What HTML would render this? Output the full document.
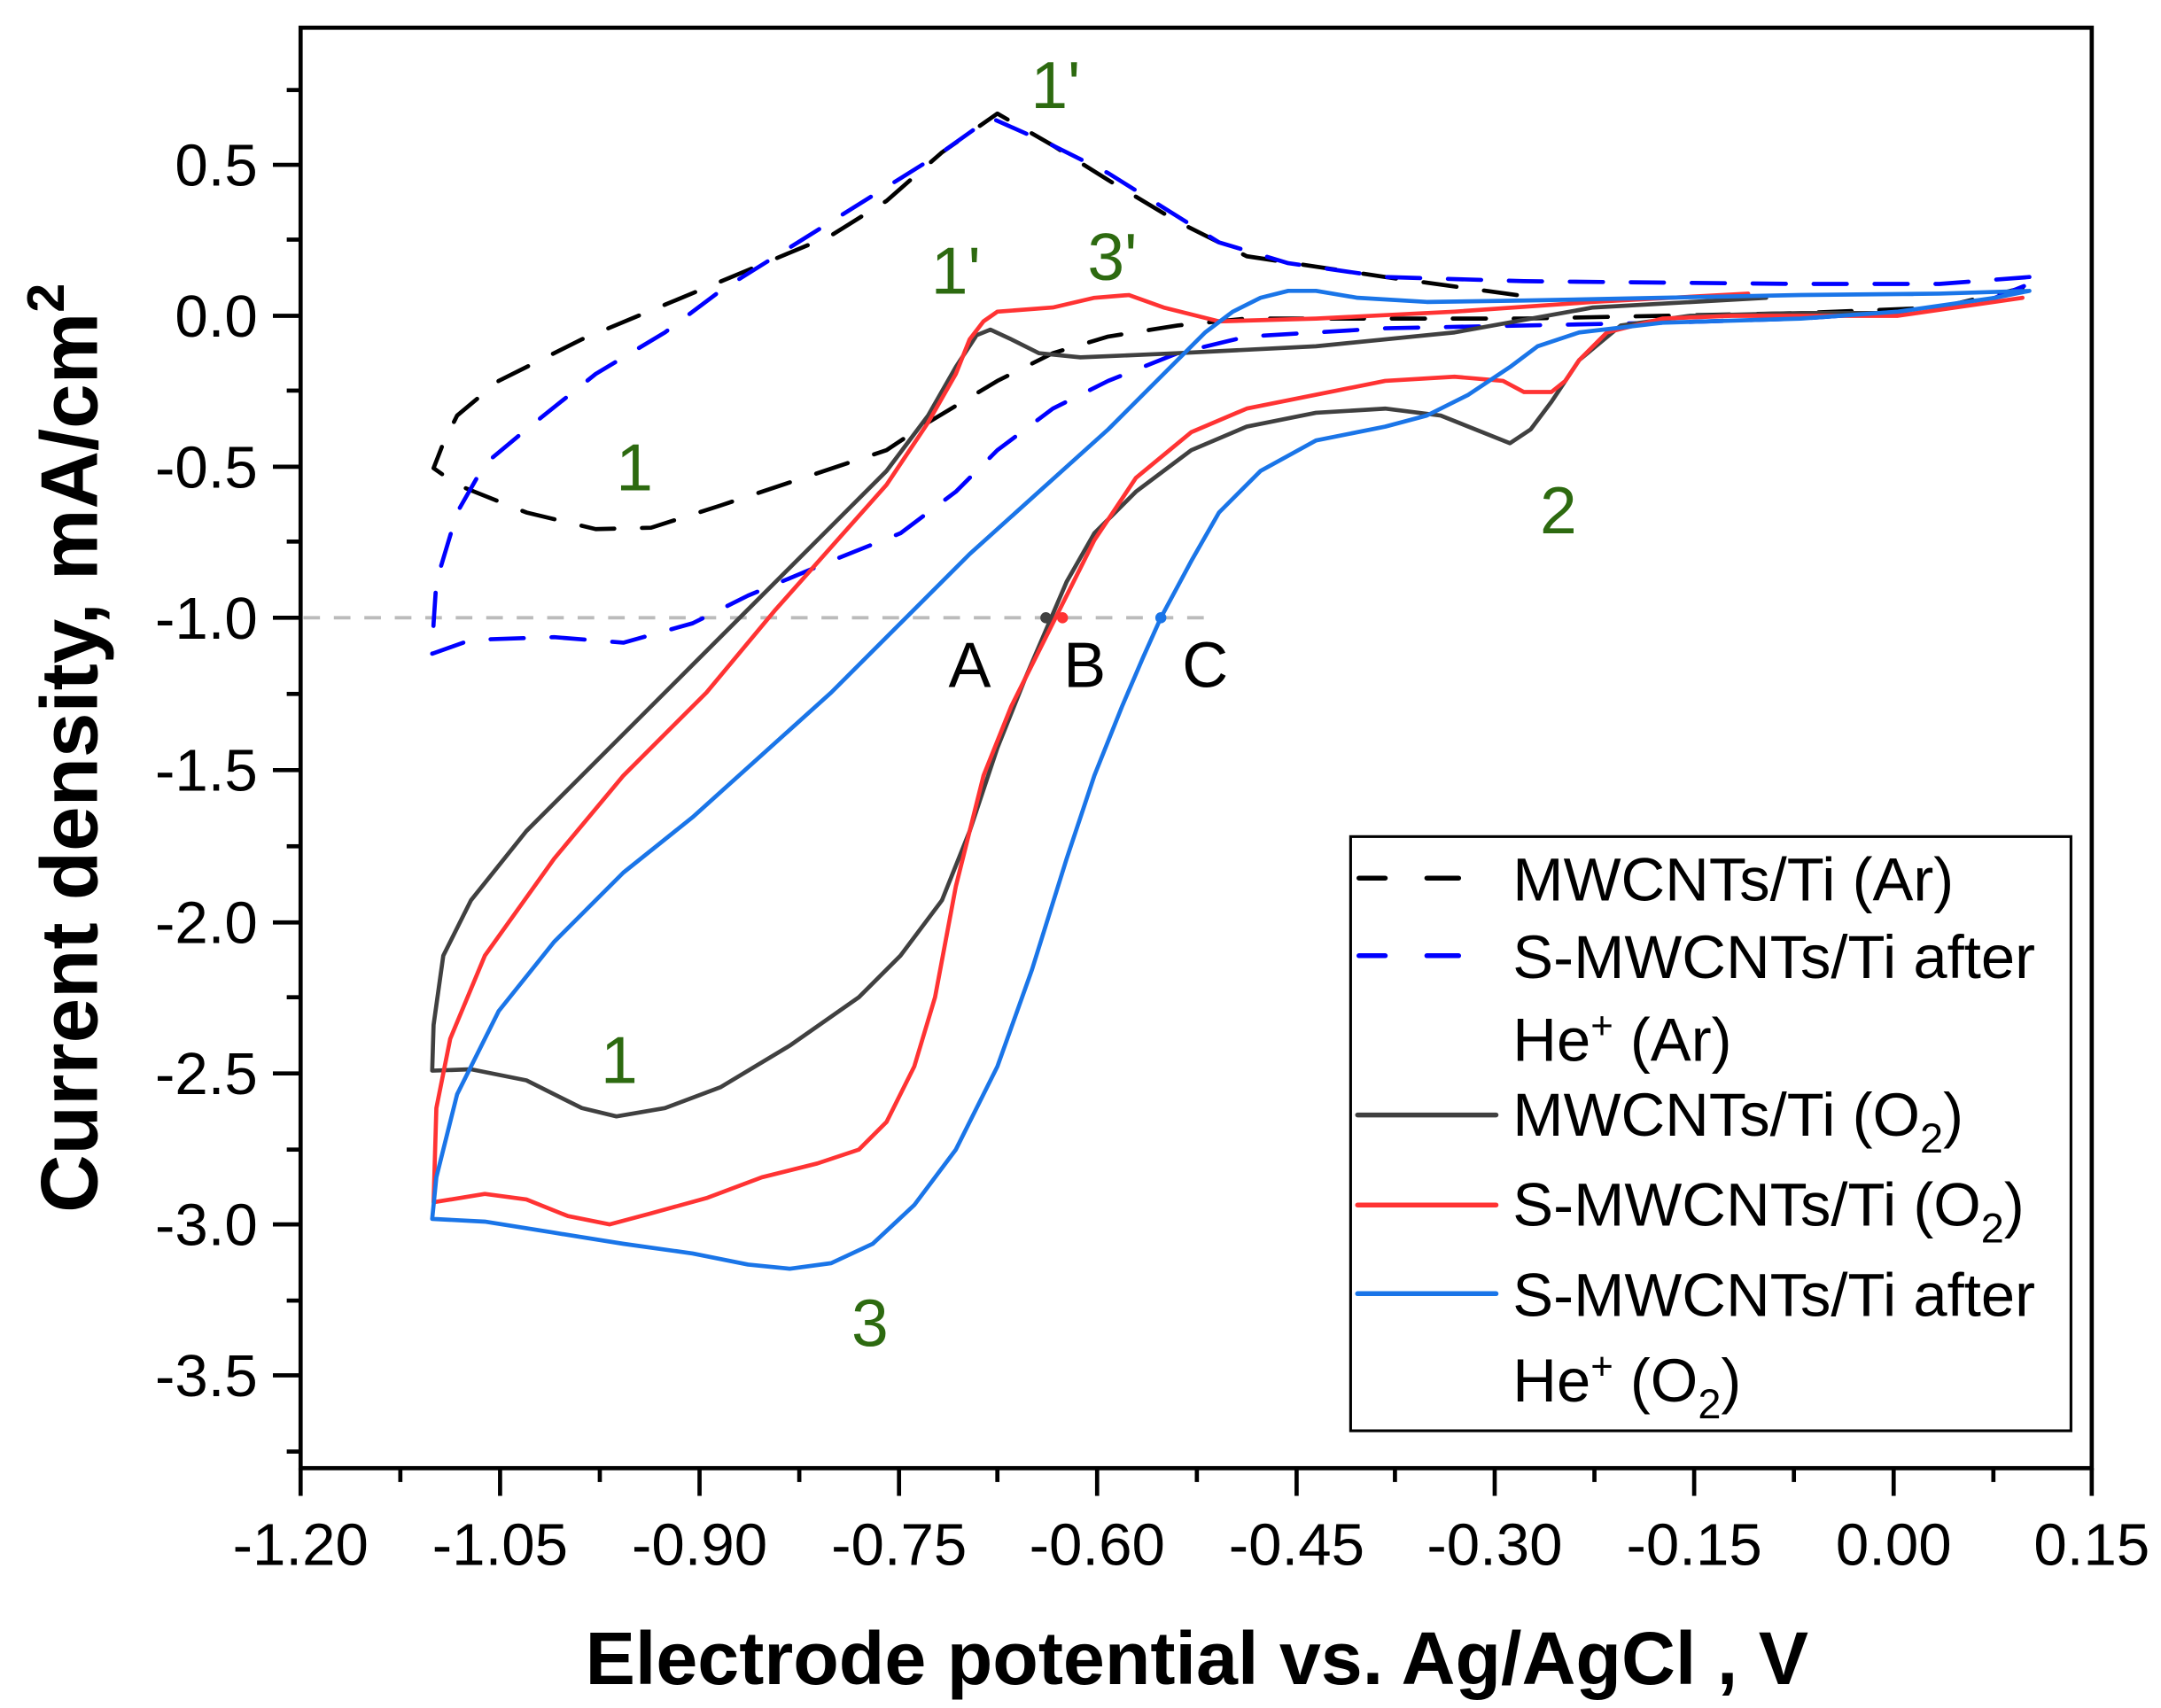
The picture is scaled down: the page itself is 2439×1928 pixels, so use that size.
<!DOCTYPE html>
<html><head><meta charset="utf-8"><style>
html,body{margin:0;padding:0;background:#fff;}
svg{display:block;}
text{font-family:"Liberation Sans",sans-serif;}
</style></head><body>
<svg width="2439" height="1928" viewBox="0 0 1560 1233.15" xmlns="http://www.w3.org/2000/svg">
<rect x="0" y="0" width="1560" height="1234" fill="#fff"/>
<line x1="219" y1="446" x2="875" y2="446" stroke="#bbb" stroke-width="2.5" stroke-dasharray="12,10"/>
<g fill="none" stroke-linejoin="round" stroke-linecap="round">
<polyline stroke="#000" stroke-width="3" stroke-dasharray="24,20" points="1095,213 1000,200 900,185 850,160 800,130 760,105 720,82 680,110 640,145 600,170 540,195 480,220 420,245 360,275 330,300 320,320 313,338 330,350 380,370 430,382 470,381 520,365 580,345 640,325 670,305 720,275 760,255 800,243 850,235 900,230 1000,230 1100,230 1200,228 1300,226 1400,222 1460,208"/>
<polyline stroke="#0000ff" stroke-width="3" stroke-dasharray="24,20" points="1465,200 1400,205 1300,205 1100,203 1000,200 930,190 880,175 840,150 800,125 760,105 715,85 680,110 640,135 600,160 560,185 520,210 480,240 430,270 380,310 350,335 330,370 315,420 313,450 312,472 340,462 400,460 450,464 500,450 540,430 600,405 650,385 690,355 720,325 760,295 800,275 850,255 900,243 1000,237 1100,235 1200,233 1300,230 1400,223 1440,215 1465,205"/>
<polyline stroke="#404040" stroke-width="3" points="1275,215 1150,222 1050,240 950,250 850,255 780,258 750,255 730,245 715,238 705,242 690,265 670,300 640,340 600,380 550,430 500,480 440,540 380,600 340,650 320,690 313,740 312,773 340,772 380,780 420,800 445,806 480,800 520,785 570,755 620,720 650,690 680,650 700,600 720,540 740,490 755,455 770,420 790,385 820,355 860,325 900,308 950,298 1000,295 1040,300 1070,312 1090,320 1105,310 1120,290 1140,260 1170,235 1220,228 1300,226 1370,226"/>
<polyline stroke="#ff3333" stroke-width="3" points="1262,212 1150,218 1050,225 950,230 880,232 840,222 815,213 790,215 760,222 720,225 710,232 700,245 690,270 670,305 640,350 600,395 560,440 510,500 450,560 400,620 350,690 325,750 315,800 313,868 350,862 380,866 410,878 440,884 470,876 510,865 550,850 590,840 620,830 640,810 660,770 675,720 690,640 710,560 730,510 745,480 760,450 790,390 820,345 860,312 900,295 950,285 1000,275 1050,272 1085,275 1100,283 1120,283 1130,275 1140,260 1160,240 1200,230 1250,228 1370,228 1460,215"/>
<polyline stroke="#1a75e8" stroke-width="3" points="1465,210 1400,212 1300,213 1200,215 1100,217 1030,218 980,215 950,210 930,210 910,215 890,225 870,240 840,270 800,310 750,355 700,400 650,450 600,500 550,545 500,590 450,630 400,680 360,730 330,790 315,850 312,880 350,882 400,890 450,898 500,905 540,913 570,916 600,912 630,898 660,870 690,830 720,770 745,700 770,620 790,560 810,510 825,475 838,446 860,405 880,370 910,340 950,318 1000,308 1030,300 1060,285 1090,265 1110,250 1140,240 1200,233 1300,230 1370,225 1440,215 1465,210"/>
</g>
<circle cx="755" cy="446" r="4" fill="#404040"/>
<circle cx="767" cy="446" r="4" fill="#ff3333"/>
<circle cx="838" cy="446" r="4" fill="#1a75e8"/>
<g font-family="Liberation Serif,serif" font-size="46" fill="#000" text-anchor="middle">
<text x="700" y="496">A</text><text x="783" y="496">B</text><text x="870" y="496">C</text>
</g>
<g font-size="48" fill="#2d6a10" text-anchor="middle">
<text x="762" y="78">1'</text><text x="690" y="212">1'</text><text x="803" y="202">3'</text>
<text x="458" y="354">1</text><text x="1125" y="385">2</text><text x="447" y="782">1</text><text x="628" y="972">3</text>
</g>
<rect x="217" y="20" width="1293" height="1040" fill="none" stroke="#000" stroke-width="3"/>
<g stroke="#000" stroke-width="3">
<line x1="197" y1="119" x2="217" y2="119"/><line x1="197" y1="228" x2="217" y2="228"/><line x1="197" y1="337" x2="217" y2="337"/><line x1="197" y1="446" x2="217" y2="446"/><line x1="197" y1="556" x2="217" y2="556"/><line x1="197" y1="666" x2="217" y2="666"/><line x1="197" y1="775" x2="217" y2="775"/><line x1="197" y1="884" x2="217" y2="884"/><line x1="197" y1="993" x2="217" y2="993"/>
<line x1="207" y1="65" x2="217" y2="65"/><line x1="207" y1="173" x2="217" y2="173"/><line x1="207" y1="282" x2="217" y2="282"/><line x1="207" y1="391" x2="217" y2="391"/><line x1="207" y1="501" x2="217" y2="501"/><line x1="207" y1="611" x2="217" y2="611"/><line x1="207" y1="720" x2="217" y2="720"/><line x1="207" y1="830" x2="217" y2="830"/><line x1="207" y1="939" x2="217" y2="939"/><line x1="207" y1="1048" x2="217" y2="1048"/>
<line x1="217" y1="1060" x2="217" y2="1080"/><line x1="361" y1="1060" x2="361" y2="1080"/><line x1="505" y1="1060" x2="505" y2="1080"/><line x1="649" y1="1060" x2="649" y2="1080"/><line x1="792" y1="1060" x2="792" y2="1080"/><line x1="936" y1="1060" x2="936" y2="1080"/><line x1="1079" y1="1060" x2="1079" y2="1080"/><line x1="1223" y1="1060" x2="1223" y2="1080"/><line x1="1367" y1="1060" x2="1367" y2="1080"/><line x1="1510" y1="1060" x2="1510" y2="1080"/>
<line x1="289" y1="1060" x2="289" y2="1070"/><line x1="433" y1="1060" x2="433" y2="1070"/><line x1="577" y1="1060" x2="577" y2="1070"/><line x1="720" y1="1060" x2="720" y2="1070"/><line x1="864" y1="1060" x2="864" y2="1070"/><line x1="1007" y1="1060" x2="1007" y2="1070"/><line x1="1151" y1="1060" x2="1151" y2="1070"/><line x1="1295" y1="1060" x2="1295" y2="1070"/><line x1="1439" y1="1060" x2="1439" y2="1070"/>
</g>
<g font-size="43" fill="#000" text-anchor="end">
<text x="186" y="134">0.5</text><text x="186" y="243">0.0</text><text x="186" y="352">-0.5</text><text x="186" y="461">-1.0</text><text x="186" y="571">-1.5</text><text x="186" y="681">-2.0</text><text x="186" y="790">-2.5</text><text x="186" y="899">-3.0</text><text x="186" y="1008">-3.5</text>
</g>
<g font-size="43" fill="#000" text-anchor="middle">
<text x="217" y="1130">-1.20</text><text x="361" y="1130">-1.05</text><text x="505" y="1130">-0.90</text><text x="649" y="1130">-0.75</text><text x="792" y="1130">-0.60</text><text x="936" y="1130">-0.45</text><text x="1079" y="1130">-0.30</text><text x="1223" y="1130">-0.15</text><text x="1367" y="1130">0.00</text><text x="1510" y="1130">0.15</text>
</g>
<text x="864" y="1216" font-size="54" font-weight="bold" text-anchor="middle">Electrode potential vs. Ag/AgCl , V</text>
<text transform="translate(70,540) rotate(-90)" font-size="58" font-weight="bold" text-anchor="middle">Current density, mA/cm<tspan dy="-24" font-size="38">2</tspan></text>
<rect x="975" y="604" width="520" height="429" fill="#fff" stroke="#000" stroke-width="2"/>
<g stroke-width="3.5" stroke-linecap="round">
<line x1="981" y1="634" x2="1000" y2="634" stroke="#000"/><line x1="1030" y1="634" x2="1053" y2="634" stroke="#000"/>
<line x1="981" y1="690" x2="1000" y2="690" stroke="#0000ff"/><line x1="1030" y1="690" x2="1053" y2="690" stroke="#0000ff"/>
<line x1="980" y1="805" x2="1080" y2="805" stroke="#404040"/>
<line x1="980" y1="870" x2="1080" y2="870" stroke="#ff3333"/>
<line x1="980" y1="934" x2="1080" y2="934" stroke="#1a75e8"/>
</g>
<g font-size="44" fill="#000">
<text x="1092" y="650">MWCNTs/Ti (Ar)</text>
<text x="1092" y="706">S-MWCNTs/Ti after</text>
<text x="1092" y="766">He<tspan dy="-16" font-size="28">+</tspan><tspan dy="16"> (Ar)</tspan></text>
<text x="1092" y="820">MWCNTs/Ti (O<tspan dy="12" font-size="30">2</tspan><tspan dy="-12">)</tspan></text>
<text x="1092" y="885">S-MWCNTs/Ti (O<tspan dy="12" font-size="30">2</tspan><tspan dy="-12">)</tspan></text>
<text x="1092" y="950">S-MWCNTs/Ti after</text>
<text x="1092" y="1012">He<tspan dy="-16" font-size="28">+</tspan><tspan dy="16"> (O</tspan><tspan dy="12" font-size="30">2</tspan><tspan dy="-12">)</tspan></text>
</g>
</svg>
</body></html>
